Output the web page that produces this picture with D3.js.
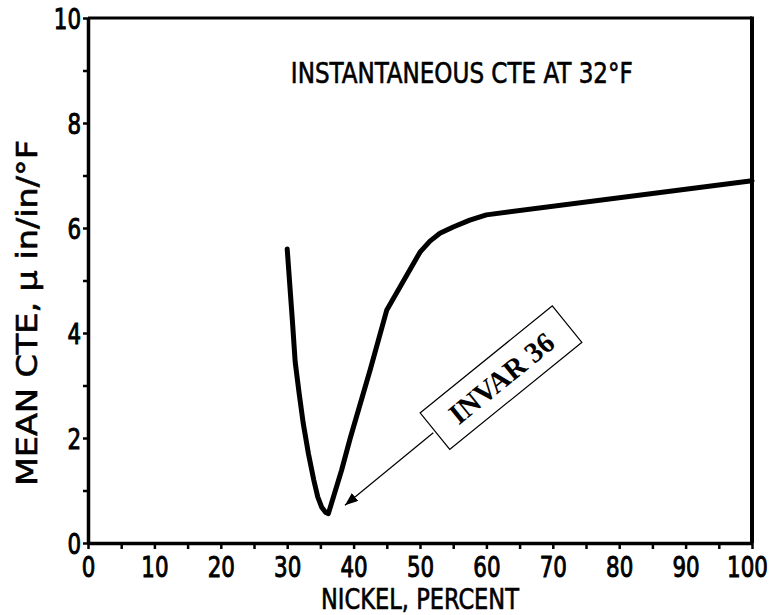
<!DOCTYPE html>
<html>
<head>
<meta charset="utf-8">
<script src="https://cdn.jsdelivr.net/npm/d3@7"></script>
<style>
  body { margin: 0; background: #fff; }
  text { font-family: "DejaVu Sans Condensed", "Liberation Sans Narrow", "Liberation Sans", Arial, sans-serif; }
</style>
</head>
<body>
<div id="chart"></div>
<script>
// Instantaneous CTE of Fe-Ni alloys vs nickel content
const nickel = [30, 30.4, 30.8, 31.2, 31.8, 32.4, 33.2, 34, 34.6, 35.2, 35.8, 36.2, 38.2, 39.5, 42.5, 45, 50, 51.5, 53, 55, 57.5, 60, 100];
const cte    = [5.6, 4.9, 4.2, 3.45, 2.85, 2.29, 1.7, 1.2, 0.88, 0.68, 0.58, 0.56, 1.39, 2.0, 3.3, 4.44, 5.54, 5.75, 5.9, 6.02, 6.15, 6.25, 6.9];

const xTicks = [0, 10, 20, 30, 40, 50, 60, 70, 80, 90, 100];
const yTicks = [0, 2, 4, 6, 8, 10];

const title = "INSTANTANEOUS CTE AT 32°F";
const xLabel = "NICKEL, PERCENT";
const yLabel = "MEAN CTE, \u03BC in/in/°F";

// annotation: label box centre, arrow start and tip (data units)
const noteText = "INVAR 36";
const noteCenter = [62.2, 3.15];
const arrowFrom = [52.0, 2.1];
const arrowTo = [38.7, 0.72];

let margin = { top: 18, left: 88, right: 22, bottom: 72 },
    width = 774 - margin.left - margin.right,
    height = 615 - margin.top - margin.bottom;

let svg = d3.select("#chart").append("svg")
  .attr("width", 774)
  .attr("height", 615)
  .style("background-color", "#FFFFFF");

svg.append("defs").append("marker")
  .attr("id", "arrow")
  .attr("viewBox", "0 0 13 10")
  .attr("refX", 13).attr("refY", 5)
  .attr("markerWidth", 13).attr("markerHeight", 10)
  .attr("markerUnits", "userSpaceOnUse")
  .attr("orient", "auto")
  .append("path").attr("d", "M0,0L13,5L0,10Z").attr("fill", "#000");

let g = svg.append("g").attr("transform", "translate(" + margin.left + "," + margin.top + ")");

let x = d3.scaleLinear().domain([0, 100]).range([0, width]);
let y = d3.scaleLinear().domain([0, 10]).range([height, 0]);

// condensed digit width, slightly heavier strokes like the scanned type
function styleLabels(sel) {
  sel.attr("font-size", 28).attr("fill", "#000")
    .attr("stroke", "#000").attr("stroke-width", 0.9)
    .attr("textLength", d => String(d).length * 13.6)
    .attr("lengthAdjust", "spacingAndGlyphs");
}

// x axis: ticks every 5, labels every 10
let xAxis = g.append("g").attr("transform", "translate(0," + height + ")")
  .call(d3.axisBottom(x).tickValues(d3.range(0, 101, 5)).tickSize(6).tickSizeOuter(0)
    .tickFormat(d => xTicks.includes(d) ? d : ""));
xAxis.select(".domain").attr("stroke-width", 3.5);
xAxis.selectAll(".tick line").attr("stroke-width", 2.5);
xAxis.selectAll(".tick text").filter(d => !xTicks.includes(d)).remove();
styleLabels(xAxis.selectAll(".tick text").attr("y", 34).attr("dy", null));
xAxis.selectAll(".tick text").filter(d => d === 100).attr("dx", -5);

// y axis: ticks every 1, labels every 2
let yAxis = g.append("g")
  .call(d3.axisLeft(y).tickValues(d3.range(0, 11, 1)).tickSize(5).tickSizeOuter(0)
    .tickFormat(d => yTicks.includes(d) ? d : ""));
yAxis.select(".domain").attr("stroke-width", 3.5);
yAxis.selectAll(".tick line").attr("stroke-width", 2.5);
yAxis.selectAll(".tick text").filter(d => !yTicks.includes(d)).remove();
styleLabels(yAxis.selectAll(".tick text").attr("x", -7).attr("dy", "0.36em"));

// top and right frame
g.append("line").attr("x1", x(0)).attr("x2", x(100)).attr("y1", y(10)).attr("y2", y(10))
  .attr("stroke", "#000").attr("stroke-width", 3);
g.append("line").attr("x1", x(100)).attr("x2", x(100)).attr("y1", y(10) - 1.5).attr("y2", y(0))
  .attr("stroke", "#000").attr("stroke-width", 4);

// curve
let pts = nickel.map((d, i) => [d, cte[i]]);
g.append("path")
  .datum(pts)
  .attr("fill", "none")
  .attr("stroke", "#000")
  .attr("stroke-width", 5)
  .attr("stroke-linejoin", "round")
  .attr("stroke-linecap", "round")
  .attr("d", d3.line().x(d => x(d[0])).y(d => y(d[1])));

// title
g.append("text")
  .attr("x", x(56.3)).attr("y", y(8.76))
  .attr("text-anchor", "middle")
  .attr("font-size", 29)
  .attr("stroke", "#000").attr("stroke-width", 0.6)
  .attr("textLength", 342).attr("lengthAdjust", "spacingAndGlyphs")
  .text(title);

// annotation box and arrow
g.append("line")
  .attr("x1", x(arrowFrom[0])).attr("y1", y(arrowFrom[1]))
  .attr("x2", x(arrowTo[0])).attr("y2", y(arrowTo[1]))
  .attr("stroke", "#000").attr("stroke-width", 1.2)
  .attr("marker-end", "url(#arrow)");

let note = g.append("g")
  .attr("transform", "translate(" + x(noteCenter[0]) + "," + y(noteCenter[1]) + ") rotate(-39)");
note.append("rect")
  .attr("x", -85).attr("y", -23.5).attr("width", 170).attr("height", 47)
  .attr("fill", "#fff").attr("stroke", "#000").attr("stroke-width", 1.2);
note.append("text")
  .attr("text-anchor", "middle").attr("dy", "0.36em")
  .attr("font-size", 29).attr("font-weight", "bold")
  .style("font-family", "'Liberation Serif', 'Times New Roman', serif")
  .attr("textLength", 126).attr("lengthAdjust", "spacingAndGlyphs")
  .text(noteText);

// axis labels
svg.append("text")
  .attr("x", margin.left + x(50)).attr("y", 609)
  .attr("text-anchor", "middle")
  .attr("font-size", 28)
  .attr("stroke", "#000").attr("stroke-width", 0.6)
  .attr("textLength", 198).attr("lengthAdjust", "spacingAndGlyphs")
  .text(xLabel);

svg.append("text")
  .attr("transform", "translate(37,313) rotate(-90)")
  .attr("text-anchor", "middle")
  .attr("font-size", 29)
  .attr("stroke", "#000").attr("stroke-width", 0.6)
  .attr("textLength", 346).attr("lengthAdjust", "spacingAndGlyphs")
  .text(yLabel);
</script>
</body>
</html>
